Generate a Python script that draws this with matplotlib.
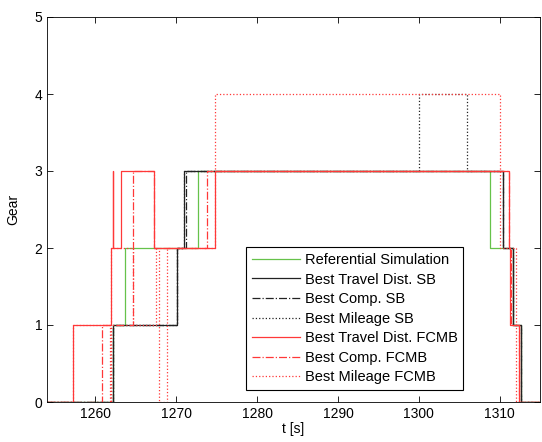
import matplotlib
matplotlib.use("Agg")
import matplotlib.pyplot as plt

plt.rcParams['font.family'] = ['Liberation Sans', 'DejaVu Sans']

# Step data: switch times [s] and gear after each switch
ref_t = [1254, 1262.2, 1263.6, 1272.7, 1308.8, 1311.7, 1312.7, 1315]
ref_g = [0, 1, 2, 3, 2, 1, 0, 0]

tdsb_t = [1254, 1262.2, 1270.1, 1271.0, 1310.4, 1311.6, 1312.7, 1315]
tdsb_g = [0, 1, 2, 3, 2, 1, 0, 0]

cpsb_t = [1254, 1262.2, 1270.1, 1271.15, 1310.4, 1311.6, 1312.7, 1315]
cpsb_g = [0, 1, 2, 3, 2, 1, 0, 0]

mlsb_t = [1254, 1262.2, 1270.1, 1271.0, 1300.0, 1306.0, 1310.4, 1311.6, 1312.7, 1315]
mlsb_g = [0, 1, 2, 3, 4, 3, 2, 1, 0, 0]

tdfc_t = [1254, 1257.2, 1261.9, 1262.2, 1262.2, 1263.2, 1267.3, 1274.8, 1311.2, 1311.3, 1312.4, 1315]
tdfc_g = [0, 1, 2, 3, 2, 3, 2, 3, 2, 1, 0, 0]

cpfc_t = [1254, 1260.8, 1264.6, 1267.3, 1273.8, 1311.2, 1311.4, 1312.4, 1315]
cpfc_g = [0, 1, 3, 2, 3, 2, 1, 0, 0]

mlfc_t = [1254, 1257.2, 1261.8, 1261.9, 1264.6, 1267.5, 1267.9, 1268.8, 1274.8, 1310.0, 1312.0, 1315]
mlfc_g = [0, 1, 0, 2, 1, 2, 0, 2, 4, 2, 0, 0]

labels = ["Referential Simulation", "Best Travel Dist. SB", "Best Comp. SB",
          "Best Mileage SB", "Best Travel Dist. FCMB", "Best Comp. FCMB",
          "Best Mileage FCMB"]

x_ticks = [1260, 1270, 1280, 1290, 1300, 1310]
y_ticks = [0, 1, 2, 3, 4, 5]

green = '#66c24a'
black = '#222222'
red = '#ff3838'

fig = plt.figure(figsize=(5.42, 4.42), dpi=100)
ax = fig.add_axes([47/542, 1 - 402/442, (540-47)/542, (402-17)/442])

series = [
    (ref_t, ref_g, green, '-'),
    (tdsb_t, tdsb_g, black, '-'),
    (cpsb_t, cpsb_g, black, '-.'),
    (mlsb_t, mlsb_g, black, ':'),
    (tdfc_t, tdfc_g, red, '-'),
    (cpfc_t, cpfc_g, red, '-.'),
    (mlfc_t, mlfc_g, red, ':'),
]
for (t, g, c, ls), lab in zip(series, labels):
    ax.plot(t, g, drawstyle='steps-post', color=c, linestyle=ls, lw=0.9, label=lab)

ax.set_xlim(1254, 1315)
ax.set_ylim(0, 5)
ax.set_xticks(x_ticks)
ax.set_yticks(y_ticks)
ax.tick_params(direction='in', top=True, right=True, labelsize=10, length=4, width=0.6)
for s in ax.spines.values():
    s.set_linewidth(0.6)
ax.set_xlabel('t [s]', fontsize=10, labelpad=1)
ax.set_ylabel('Gear', fontsize=10, labelpad=10)

leg = ax.legend(loc='lower left', bbox_to_anchor=(0.404, 0.031), fontsize=10.5,
                fancybox=False, framealpha=1, edgecolor='black',
                handlelength=3.3, handletextpad=0.3, labelspacing=0.38,
                borderpad=0.4, borderaxespad=0)
leg.get_frame().set_linewidth(0.8)

fig.savefig('out.png', dpi=100)
